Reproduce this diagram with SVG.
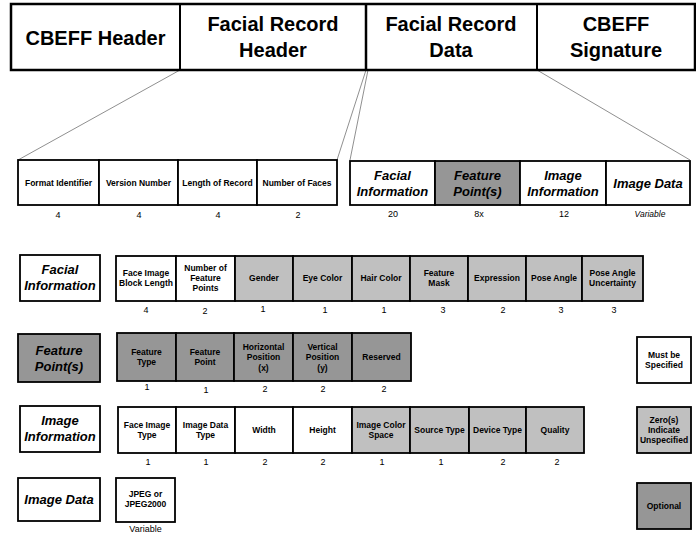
<svg xmlns="http://www.w3.org/2000/svg" width="696" height="535" viewBox="0 0 696 535">
<style>
text{font-family:"Liberation Sans",Arial,sans-serif;fill:#000;text-anchor:middle}
.big{font-size:20px;font-weight:bold}
.lab{font-size:13px;font-weight:bold;font-style:italic}
.f{font-size:8.5px;font-weight:bold}
.n{font-size:9px}
.v{font-size:8.5px;font-style:italic}
.w{fill:#fff;stroke:#000;stroke-width:1.8}
.lg{fill:#c0c0c0;stroke:#000;stroke-width:1.8}
.dg{fill:#969696;stroke:#000;stroke-width:1.8}
.top{fill:#fff;stroke:#000;stroke-width:2.5}
.c{stroke:#909090;stroke-width:1;fill:none}
</style>
<g id="connectors">
<line class="c" x1="180" y1="70" x2="18" y2="160"/>
<line class="c" x1="366" y1="70" x2="337" y2="160"/>
<line class="c" x1="368" y1="70" x2="350" y2="160"/>
<line class="c" x1="537" y1="70" x2="690" y2="160"/>
</g>
<g id="top-row">
<rect class="top" x="11" y="4" width="684" height="66"/>
<line x1="180" y1="4" x2="180" y2="70" stroke="#000" stroke-width="2"/>
<line x1="366" y1="4" x2="366" y2="70" stroke="#000" stroke-width="2.5"/>
<line x1="537" y1="4" x2="537" y2="70" stroke="#000" stroke-width="2"/>
<text class="big" x="95.5" y="45">CBEFF Header</text>
<text class="big" x="273" y="31">Facial Record</text>
<text class="big" x="273" y="57">Header</text>
<text class="big" x="451" y="31">Facial Record</text>
<text class="big" x="451" y="57">Data</text>
<text class="big" x="616" y="31">CBEFF</text>
<text class="big" x="616" y="57">Signature</text>
</g>
<g id="header-fields">
<rect class="w" x="18" y="160" width="81" height="45"/>
<rect class="w" x="99" y="160" width="79" height="45"/>
<rect class="w" x="178" y="160" width="79" height="45"/>
<rect class="w" x="257" y="160" width="80" height="45"/>
<text class="f" x="58.5" y="186">Format Identifier</text>
<text class="f" x="138.5" y="186">Version Number</text>
<text class="f" x="217.5" y="186">Length of Record</text>
<text class="f" x="297" y="186">Number of Faces</text>
<text class="n" x="58" y="218">4</text>
<text class="n" x="139" y="218">4</text>
<text class="n" x="218" y="218">4</text>
<text class="n" x="298" y="218">2</text>
</g>
<g id="data-fields">
<rect class="w" x="350" y="161" width="85" height="44"/>
<rect class="dg" x="435" y="161" width="85" height="44"/>
<rect class="w" x="520" y="161" width="86" height="44"/>
<rect class="w" x="606" y="161" width="84" height="44"/>
<text class="lab" x="392.5" y="180">Facial</text>
<text class="lab" x="392.5" y="196">Information</text>
<text class="lab" x="477.5" y="180">Feature</text>
<text class="lab" x="477.5" y="196">Point(s)</text>
<text class="lab" x="563" y="180">Image</text>
<text class="lab" x="563" y="196">Information</text>
<text class="lab" x="648" y="188">Image Data</text>
<text class="n" x="393" y="217">20</text>
<text class="n" x="479" y="217">8x</text>
<text class="n" x="564" y="217">12</text>
<text class="v" x="650" y="217">Variable</text>
</g>
<g id="facial-information">
<rect class="w" x="20" y="255" width="80" height="46"/>
<text class="lab" x="60" y="274">Facial</text>
<text class="lab" x="60" y="290">Information</text>
<rect class="w" x="116" y="256" width="60" height="45"/>
<rect class="w" x="176" y="256" width="59" height="45"/>
<rect class="lg" x="235" y="256" width="58" height="45"/>
<rect class="lg" x="293" y="256" width="59" height="45"/>
<rect class="lg" x="352" y="256" width="58" height="45"/>
<rect class="lg" x="410" y="256" width="58" height="45"/>
<rect class="lg" x="468" y="256" width="58" height="45"/>
<rect class="lg" x="526" y="256" width="56" height="45"/>
<rect class="lg" x="582" y="256" width="61" height="45"/>
<text class="f" x="146" y="276">Face Image</text>
<text class="f" x="146" y="286">Block Length</text>
<text class="f" x="205.5" y="271">Number of</text>
<text class="f" x="205.5" y="281">Feature</text>
<text class="f" x="205.5" y="291">Points</text>
<text class="f" x="264" y="281">Gender</text>
<text class="f" x="322.5" y="281">Eye Color</text>
<text class="f" x="381" y="281">Hair Color</text>
<text class="f" x="439" y="276">Feature</text>
<text class="f" x="439" y="286">Mask</text>
<text class="f" x="497" y="281">Expression</text>
<text class="f" x="554" y="281">Pose Angle</text>
<text class="f" x="612.5" y="276">Pose Angle</text>
<text class="f" x="612.5" y="286">Uncertainty</text>
<text class="n" x="146" y="313">4</text>
<text class="n" x="205" y="314">2</text>
<text class="n" x="263" y="312">1</text>
<text class="n" x="325" y="313">1</text>
<text class="n" x="384" y="313">1</text>
<text class="n" x="443" y="313">3</text>
<text class="n" x="503" y="313">2</text>
<text class="n" x="561" y="313">3</text>
<text class="n" x="614" y="313">3</text>
</g>
<g id="feature-points">
<rect class="dg" x="18" y="334" width="82" height="48"/>
<text class="lab" x="59" y="355">Feature</text>
<text class="lab" x="59" y="371">Point(s)</text>
<rect class="dg" x="117" y="333" width="59" height="48"/>
<rect class="dg" x="176" y="333" width="58" height="48"/>
<rect class="dg" x="234" y="333" width="59" height="48"/>
<rect class="dg" x="293" y="333" width="59" height="48"/>
<rect class="dg" x="352" y="333" width="59" height="48"/>
<text class="f" x="146.5" y="355">Feature</text>
<text class="f" x="146.5" y="365">Type</text>
<text class="f" x="205" y="355">Feature</text>
<text class="f" x="205" y="365">Point</text>
<text class="f" x="263.5" y="350">Horizontal</text>
<text class="f" x="263.5" y="360">Position</text>
<text class="f" x="263.5" y="371">(x)</text>
<text class="f" x="322.5" y="350">Vertical</text>
<text class="f" x="322.5" y="360">Position</text>
<text class="f" x="322.5" y="371">(y)</text>
<text class="f" x="381.5" y="360">Reserved</text>
<text class="n" x="147" y="390">1</text>
<text class="n" x="206" y="393">1</text>
<text class="n" x="265" y="392">2</text>
<text class="n" x="323" y="392">2</text>
<text class="n" x="384" y="392">2</text>
</g>
<g id="image-information">
<rect class="w" x="20" y="406" width="80" height="46"/>
<text class="lab" x="60" y="425">Image</text>
<text class="lab" x="60" y="441">Information</text>
<rect class="w" x="118" y="407" width="58" height="46"/>
<rect class="w" x="176" y="407" width="59" height="46"/>
<rect class="w" x="235" y="407" width="58" height="46"/>
<rect class="w" x="293" y="407" width="59" height="46"/>
<rect class="lg" x="352" y="407" width="58" height="46"/>
<rect class="lg" x="410" y="407" width="59" height="46"/>
<rect class="lg" x="469" y="407" width="57" height="46"/>
<rect class="lg" x="526" y="407" width="58" height="46"/>
<text class="f" x="147" y="428">Face Image</text>
<text class="f" x="147" y="438">Type</text>
<text class="f" x="205.5" y="428">Image Data</text>
<text class="f" x="205.5" y="438">Type</text>
<text class="f" x="264" y="433">Width</text>
<text class="f" x="322.5" y="433">Height</text>
<text class="f" x="381" y="428">Image Color</text>
<text class="f" x="381" y="438">Space</text>
<text class="f" x="439.5" y="433">Source Type</text>
<text class="f" x="497.5" y="433">Device Type</text>
<text class="f" x="555" y="433">Quality</text>
<text class="n" x="148" y="465">1</text>
<text class="n" x="206" y="465">1</text>
<text class="n" x="265" y="465">2</text>
<text class="n" x="323" y="465">2</text>
<text class="n" x="382" y="465">1</text>
<text class="n" x="441" y="465">1</text>
<text class="n" x="503" y="465">2</text>
<text class="n" x="557" y="465">2</text>
</g>
<g id="image-data">
<rect class="w" x="18" y="478" width="82" height="43"/>
<text class="lab" x="59" y="504">Image Data</text>
<rect class="w" x="116" y="478" width="59" height="44"/>
<text class="f" x="145.5" y="497">JPEG or</text>
<text class="f" x="145.5" y="507">JPEG2000</text>
<text class="n" x="145.5" y="532">Variable</text>
</g>
<g id="legend-must">
<rect class="w" x="637" y="337" width="54" height="46"/>
<text class="f" x="664" y="358">Must be</text>
<text class="f" x="664" y="368">Specified</text>
</g>
<g id="legend-zero">
<rect class="lg" x="637" y="407" width="54" height="46"/>
<text class="f" x="664" y="423">Zero(s)</text>
<text class="f" x="664" y="433">Indicate</text>
<text class="f" x="664" y="443">Unspecified</text>
</g>
<g id="legend-optional">
<rect class="dg" x="637" y="483" width="54" height="46"/>
<text class="f" x="664" y="509">Optional</text>
</g>
</svg>
